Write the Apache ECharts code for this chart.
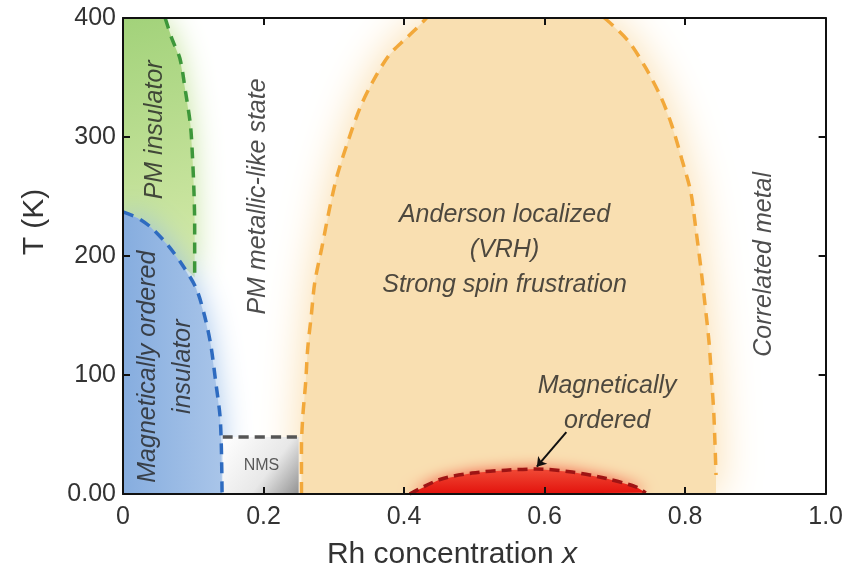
<!DOCTYPE html>
<html>
<head>
<meta charset="utf-8">
<script src="https://cdn.jsdelivr.net/npm/echarts@6/dist/echarts.min.js"></script>
<style>
  html, body { margin: 0; padding: 0; background: #fff; }
  #main { width: 846px; height: 576px; }
</style>
</head>
<body>
<div id="main"></div>
<script>
// phase boundaries, points are [x, T (K)]
var greenLine = [[0.060, 400], [0.070, 382], [0.081, 366], [0.089, 338], [0.096, 310], [0.099, 282],
  [0.101, 254], [0.102, 226], [0.102, 198], [0.102, 182]];
var blueLine = [[0, 237], [0.021, 232], [0.040, 224], [0.064, 209], [0.085, 192], [0.104, 173],
  [0.116, 150], [0.125, 125], [0.132, 94], [0.138, 66], [0.140, 39], [0.141, 0]];
var nmsLine = [[0.142, 48], [0.250, 48]];
var orangeLeft = [[0.254, 0], [0.254, 39], [0.256, 66], [0.260, 94], [0.263, 123], [0.268, 150],
  [0.273, 178], [0.283, 207], [0.294, 240], [0.305, 268], [0.320, 296], [0.337, 324], [0.355, 346],
  [0.379, 369], [0.403, 383], [0.419, 392], [0.432, 400]];
var orangeRight = [[0.685, 400], [0.695, 395], [0.720, 380], [0.744, 358], [0.766, 333], [0.781, 310],
  [0.795, 282], [0.808, 254], [0.815, 224], [0.822, 192], [0.828, 161], [0.834, 128], [0.838, 94],
  [0.841, 66], [0.844, 16]];
var redLine = [[0.408, 0], [0.450, 12], [0.497, 17.6], [0.545, 20], [0.588, 21], [0.639, 18.5],
  [0.688, 13], [0.730, 6], [0.744, 1]];
var arrowLine = [[0.631, 52], [0.589, 23]];

var xTicks = [0, 0.2, 0.4, 0.6, 0.8, 1.0];
var yTicks = [0, 100, 200, 300, 400];

// region labels: text, [x, T], rotation
var labels = [
  { text: 'PM insulator', at: [0.045, 306], rotate: 90 },
  { text: 'Magnetically ordered\ninsulator', at: [0.060, 107], rotate: 90 },
  { text: 'PM metallic-like state', at: [0.192, 250], rotate: 90 },
  { text: 'Anderson localized\n(VRH)\nStrong spin frustration', at: [0.543, 205], rotate: 0 },
  { text: 'Correlated metal', at: [0.912, 193], rotate: 90 },
  { text: 'Magnetically\nordered', at: [0.689, 76], rotate: 0 }
];

var FONT = '"Liberation Sans", Arial, sans-serif';

// fill polygons built from the boundaries
var blueFill = [[0, 0]].concat(blueLine);
var greenFill = [[0, 400]].concat(greenLine,
  blueLine.filter(function (p) { return p[0] < 0.1; }).reverse());
var orangeFill = orangeLeft.concat(orangeRight, [[orangeRight[orangeRight.length - 1][0], 0]]);
var redFill = redLine.slice();
var nmsFill = [[nmsLine[0][0], 0]].concat(nmsLine, [[nmsLine[1][0], 0]]);

function region(pts, fill, glow, blur, z) {
  return {
    type: 'custom',
    coordinateSystem: 'cartesian2d',
    clip: true,
    silent: true,
    z: z,
    data: [[0, 0]],
    renderItem: function (params, api) {
      return {
        type: 'polygon',
        shape: { points: pts.map(function (p) { return api.coord(p); }) },
        style: { fill: fill, shadowBlur: blur, shadowColor: glow }
      };
    }
  };
}

function dashed(data, color, width, dash) {
  return {
    type: 'line',
    data: data,
    smooth: 0.3,
    symbol: 'none',
    silent: true,
    z: 5,
    lineStyle: { color: color, width: width, type: dash }
  };
}

function frameAxis(pos, min, max, step, labelOpts) {
  return {
    type: 'value', min: min, max: max, interval: step, position: pos, z: 20,
    axisLine: { onZero: false, lineStyle: { color: '#111', width: 2 } },
    axisTick: { inside: true, length: 7, lineStyle: { color: '#111', width: 2 } },
    axisLabel: labelOpts || { show: false },
    splitLine: { show: false }
  };
}

var G = echarts.graphic;

var myChart = echarts.init(document.getElementById('main'));

var option = {
  backgroundColor: '#ffffff',
  animation: false,
  textStyle: { fontFamily: FONT },
  grid: { left: 123, right: 19, top: 18, bottom: 82 },
  xAxis: [
    frameAxis('bottom', 0, 1, 0.2, {
      fontSize: 25, color: '#333', margin: 11,
      formatter: function (v) { return v === 0 ? '0' : v.toFixed(1); }
    }),
    frameAxis('top', 0, 1, 0.2)
  ],
  yAxis: [
    frameAxis('left', 0, 400, 100, {
      fontSize: 25, color: '#333', margin: 7,
      formatter: function (v) { return v === 0 ? '0.00' : String(v); }
    }),
    frameAxis('right', 0, 400, 100)
  ],
  graphic: [
    {
      type: 'text', x: 35, y: 222, rotation: Math.PI / 2,
      style: { text: 'T (K)', fontSize: 30, fill: '#333', fontFamily: FONT, align: 'center', verticalAlign: 'middle' }
    },
    {
      type: 'text', x: 452, y: 555,
      style: {
        text: '{n|Rh concentration }{i|x}', align: 'center', verticalAlign: 'middle',
        rich: {
          n: { fontSize: 30, fill: '#333', fontFamily: FONT },
          i: { fontSize: 30, fill: '#333', fontFamily: FONT, fontStyle: 'italic' }
        }
      }
    }
  ],
  series: [
    region(orangeFill, '#f9dfb1', 'rgba(249,218,165,1)', 45, 1),
    region(greenFill, new G.LinearGradient(0, 0, 1, 1, [
      { offset: 0, color: '#a2d27a' }, { offset: 1, color: '#d6eaab' }
    ]), 'rgba(190,224,145,0.9)', 30, 2),
    region(blueFill, new G.LinearGradient(0, 0, 1, 0, [
      { offset: 0, color: '#86addf' }, { offset: 1, color: '#a9c5e9' }
    ]), 'rgba(150,188,232,0.9)', 30, 3),
    region(redFill, new G.LinearGradient(0, 0, 0, 1, [
      { offset: 0, color: '#f04a36' }, { offset: 1, color: '#e3120c' }
    ]), 'rgba(240,60,40,0.9)', 16, 3),
    region(nmsFill, new G.LinearGradient(0, 0, 1, 1, [
      { offset: 0, color: '#ffffff' }, { offset: 0.6, color: '#e8e8e8' }, { offset: 1, color: '#929292' }
    ]), 'rgba(0,0,0,0)', 0, 4),
    dashed(greenLine, '#3d973a', 3.5, [11, 8]),
    dashed(blueLine, '#2e6bc0', 3.5, [11, 8]),
    dashed(nmsLine, '#555555', 3.5, [10, 6]),
    dashed(orangeLeft, '#f2a83a', 3.5, [12, 8]),
    dashed(orangeRight, '#f2a83a', 3.5, [12, 8]),
    dashed(redLine, '#9e1414', 3.5, [10, 6]),
    {
      type: 'lines',
      coordinateSystem: 'cartesian2d',
      silent: true,
      z: 6,
      symbol: ['none', 'arrow'],
      symbolSize: 9,
      lineStyle: { color: '#111', width: 2, opacity: 1 },
      data: [{ coords: arrowLine }]
    },
    {
      type: 'scatter',
      silent: true,
      z: 7,
      symbolSize: 1,
      itemStyle: { color: 'rgba(0,0,0,0)' },
      label: {
        show: true, position: 'inside', align: 'center', verticalAlign: 'middle',
        fontSize: 25, fontStyle: 'italic', color: '#222', lineHeight: 35, fontFamily: FONT,
        formatter: function (p) { return p.name; }
      },
      data: labels.map(function (l) {
        return { name: l.text, value: l.at, label: { rotate: l.rotate } };
      }).concat([{
        name: 'NMS', value: [0.197, 24],
        label: { rotate: 0, fontSize: 16, fontStyle: 'normal', color: '#333' }
      }])
    }
  ]
};

myChart.setOption(option);
</script>
</body>
</html>
